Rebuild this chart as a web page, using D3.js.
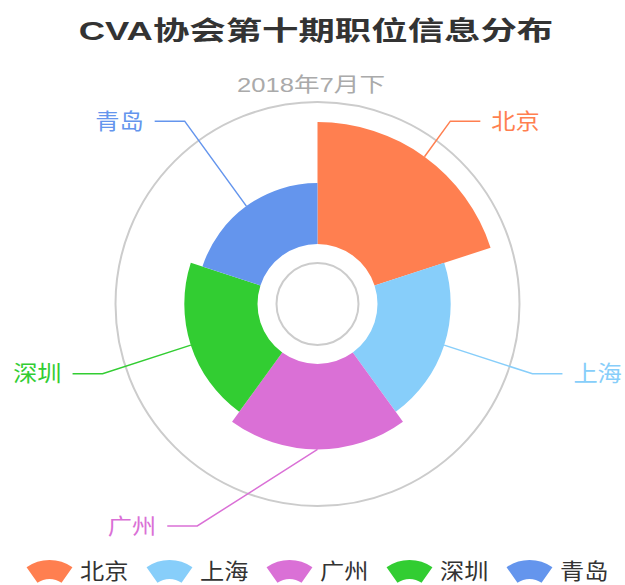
<!DOCTYPE html>
<html>
<head>
<meta charset="utf-8">
<script src="https://cdn.jsdelivr.net/npm/d3@7"></script>
<style>
  body { margin: 0; background: #fff; }
</style>
</head>
<body>
<div id="chart"></div>
<script>
// data
const titleText = "CVA协会第十期职位信息分布";
const subtitleText = "2018年7月下";
const cities = ["北京", "上海", "广州", "深圳", "青岛"];
const counts = [20, 12, 14, 12, 10];
const colors = ["#ff7f50", "#87cefa", "#da70d6", "#32cd32", "#6495ed"];

const w = 625;
const h = 585;
const cx = 317.5, cy = 304;
const font = "'Liberation Sans','Noto Sans CJK SC',sans-serif";

// rose layout: equal angles, radius from value
const hole = 60, outer = 182;
const elbowR = 226, len2 = 30, labelGap = 11, maxLabelY = 526;

const svg = d3.select("#chart")
              .append("svg")
              .attr("width", w)
              .attr("height", h);

// title + subtitle (text is drawn a bit wider than the font, like the original)
svg.append("text")
   .attr("transform", "translate(316,31) scale(1.4,1)")
   .attr("text-anchor", "middle")
   .attr("dominant-baseline", "central")
   .attr("font-family", font)
   .attr("font-weight", "bold")
   .attr("font-size", 26)
   .attr("fill", "#333")
   .text(titleText);

svg.append("text")
   .attr("transform", "translate(311,85) scale(1.28,1)")
   .attr("text-anchor", "middle")
   .attr("dominant-baseline", "central")
   .attr("font-family", font)
   .attr("font-size", 20)
   .attr("fill", "#aaa")
   .text(subtitleText);

const g = svg.append("g").attr("transform", `translate(${cx},${cy})`);

// decorative rings
[202, 41].forEach(r => {
  g.append("circle")
   .attr("r", r)
   .attr("fill", "none")
   .attr("stroke", "#ccc")
   .attr("stroke-width", 2);
});

const rScale = d3.scaleLinear()
                 .domain([0, d3.max(counts)])
                 .range([hole, outer]);

const pie = d3.pie().value(() => 1).sort(null);
const arcs = pie(counts);

const arc = d3.arc()
              .innerRadius(hole)
              .outerRadius(d => rScale(d.data));

g.selectAll("path.slice")
 .data(arcs)
 .enter()
 .append("path")
 .attr("class", "slice")
 .attr("d", arc)
 .attr("fill", (d, i) => colors[i]);

// label lines: start at slice edge, elbow on a fixed circle, then a short horizontal run
const labels = arcs.map((d, i) => {
  const a = (d.startAngle + d.endAngle) / 2;
  const s = Math.sin(a), c = -Math.cos(a);
  const dir = s > 1e-6 ? 1 : -1;
  const r0 = rScale(d.data);
  let ex = elbowR * s, ey = Math.min(elbowR * c, maxLabelY - cy);
  // labels under the pie get pulled out sideways so the text clears it
  if (Math.abs(s) < 0.5) ex = dir * Math.sqrt((elbowR + len2) ** 2 - (elbowR * c) ** 2);
  return {
    i, dir,
    pts: [[r0 * s, r0 * c], [ex, ey], [ex + dir * len2, ey]]
  };
});

g.selectAll("path.label-line")
 .data(labels)
 .enter()
 .append("path")
 .attr("class", "label-line")
 .attr("d", d => d3.line()(d.pts))
 .attr("fill", "none")
 .attr("stroke", d => colors[d.i])
 .attr("stroke-width", 1.5);

g.selectAll("text.label")
 .data(labels)
 .enter()
 .append("text")
 .attr("class", "label")
 .attr("transform", d => `translate(${d.pts[2][0] + d.dir * labelGap},${d.pts[2][1]}) scale(1.1,1)`)
 .attr("text-anchor", d => d.dir > 0 ? "start" : "end")
 .attr("dominant-baseline", "central")
 .attr("font-family", font)
 .attr("font-size", 22)
 .attr("fill", d => colors[d.i])
 .text(d => cities[d.i]);

// legend with small sector icons
const legendX = d3.scaleBand()
                  .domain(cities)
                  .range([27, 27 + 120 * cities.length]);

const iconArc = d3.arc()
                  .innerRadius(21)
                  .outerRadius(40)
                  .startAngle(-35 * Math.PI / 180)
                  .endAngle(35 * Math.PI / 180);

const legend = svg.append("g").attr("id", "legend");

const items = legend.selectAll("g")
                    .data(cities)
                    .enter()
                    .append("g")
                    .attr("transform", d => `translate(${legendX(d)},560)`);

items.append("path")
     .attr("d", iconArc)
     .attr("transform", "translate(22.5,40)")
     .attr("fill", (d, i) => colors[i]);

items.append("text")
     .attr("transform", "translate(53,11) scale(1.1,1)")
     .attr("dominant-baseline", "central")
     .attr("font-family", font)
     .attr("font-size", 22)
     .attr("fill", "#333")
     .text(d => d);
</script>
</body>
</html>
